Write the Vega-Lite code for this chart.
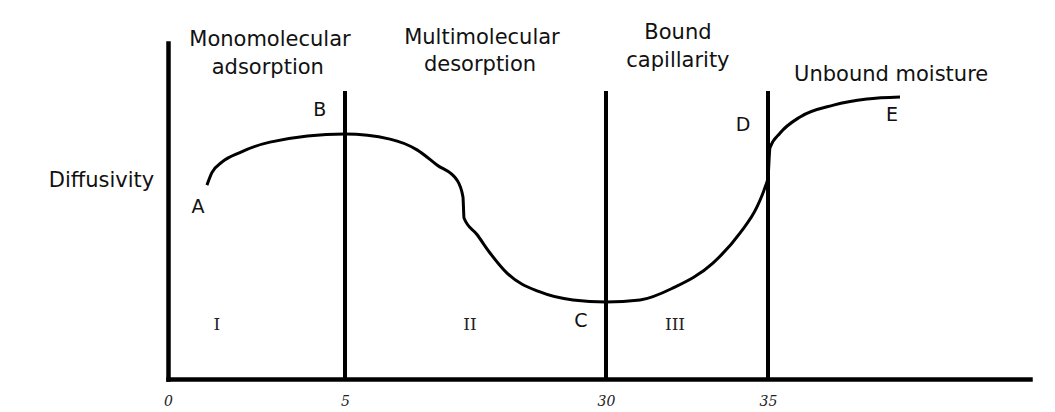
{
  "$schema": "https://vega.github.io/schema/vega-lite/v6.json",
  "width": 862,
  "height": 336,
  "autosize": {"type": "none"},
  "padding": {"left": 168, "top": 43, "right": 25, "bottom": 33},
  "background": "white",
  "config": {"view": {"stroke": null}},
  "datasets": {
    "curve": [
      {"moisture": 1.10, "diffusivity": 57.7},
      {"moisture": 1.24, "diffusivity": 61.4},
      {"moisture": 1.53, "diffusivity": 64.6},
      {"moisture": 2.03, "diffusivity": 67.4},
      {"moisture": 2.88, "diffusivity": 70.5},
      {"moisture": 5.00, "diffusivity": 72.9},
      {"moisture": 9.31, "diffusivity": 71.4},
      {"moisture": 11.90, "diffusivity": 68.2},
      {"moisture": 13.81, "diffusivity": 63.7},
      {"moisture": 15.73, "diffusivity": 59.2},
      {"moisture": 16.30, "diffusivity": 54.2},
      {"moisture": 16.40, "diffusivity": 47.9},
      {"moisture": 17.64, "diffusivity": 43.0},
      {"moisture": 18.89, "diffusivity": 37.5},
      {"moisture": 20.52, "diffusivity": 31.5},
      {"moisture": 23.68, "diffusivity": 25.9},
      {"moisture": 26.84, "diffusivity": 23.5},
      {"moisture": 30.00, "diffusivity": 22.9},
      {"moisture": 31.05, "diffusivity": 23.5},
      {"moisture": 32.07, "diffusivity": 27.1},
      {"moisture": 33.30, "diffusivity": 34.5},
      {"moisture": 34.14, "diffusivity": 43.5},
      {"moisture": 34.66, "diffusivity": 51.2},
      {"moisture": 34.91, "diffusivity": 57.1},
      {"moisture": 35.00, "diffusivity": 60.0},
      {"moisture": 35.06, "diffusivity": 68.8},
      {"moisture": 35.37, "diffusivity": 73.2},
      {"moisture": 35.98, "diffusivity": 78.0},
      {"moisture": 37.00, "diffusivity": 81.5},
      {"moisture": 38.02, "diffusivity": 83.3},
      {"moisture": 39.03, "diffusivity": 83.9}
    ],
    "dividers": [
      {"moisture": 5, "top": 85.7},
      {"moisture": 30, "top": 85.7},
      {"moisture": 35, "top": 85.7}
    ],
    "regions": [
      {"moisture": 2.88, "diffusivity": 100.9, "label": "Monomolecular"},
      {"moisture": 2.82, "diffusivity": 92.6, "label": "adsorption"},
      {"moisture": 18.12, "diffusivity": 101.5, "label": "Multimolecular"},
      {"moisture": 17.93, "diffusivity": 93.5, "label": "desorption"},
      {"moisture": 32.22, "diffusivity": 103.0, "label": "Bound"},
      {"moisture": 32.22, "diffusivity": 94.6, "label": "capillarity"},
      {"moisture": 38.76, "diffusivity": 90.5, "label": "Unbound moisture"}
    ],
    "points": [
      {"moisture": 0.85, "diffusivity": 51.2, "label": "A"},
      {"moisture": 4.29, "diffusivity": 80.1, "label": "B"},
      {"moisture": 27.6, "diffusivity": 17.3, "label": "C"},
      {"moisture": 34.23, "diffusivity": 75.6, "label": "D"},
      {"moisture": 38.79, "diffusivity": 78.6, "label": "E"}
    ],
    "zones": [
      {"moisture": 1.38, "diffusivity": 16.1, "label": "I"},
      {"moisture": 16.97, "diffusivity": 16.1, "label": "II"},
      {"moisture": 32.13, "diffusivity": 16.1, "label": "III"}
    ]
  },
  "encoding": {
    "x": {
      "type": "quantitative",
      "scale": {"domain": [0, 5, 30, 35, 43], "range": [0, 177, 438, 600, 862], "nice": false, "zero": false}
    },
    "y": {
      "type": "quantitative",
      "scale": {"domain": [0, 100], "nice": false}
    }
  },
  "layer": [
    {
      "data": {"name": "curve"},
      "mark": {"type": "line", "color": "black", "strokeWidth": 3, "interpolate": "monotone"},
      "encoding": {
        "x": {
          "field": "moisture",
          "type": "quantitative",
          "axis": {
            "values": [0, 5, 30, 35],
            "title": null,
            "grid": false,
            "ticks": false,
            "tickSize": 0,
            "domainColor": "black",
            "domainWidth": 4.5,
            "domainCap": "square",
            "labelFont": "DejaVu Serif",
            "labelFontStyle": "italic",
            "labelFontSize": 14,
            "labelColor": "#222",
            "labelBaseline": "middle",
            "labelPadding": 22,
            "labelDx": -3,
            "labelFlush": false,
            "labelOverlap": false
          }
        },
        "y": {
          "field": "diffusivity",
          "type": "quantitative",
          "axis": {
            "title": "Diffusivity",
            "titleAngle": 0,
            "titleX": -67,
            "titleY": 137,
            "titleAlign": "center",
            "titleBaseline": "middle",
            "titleFont": "DejaVu Sans",
            "titleFontSize": 21,
            "titleFontWeight": "normal",
            "titleColor": "#111",
            "grid": false,
            "ticks": false,
            "labels": false,
            "domainColor": "black",
            "domainWidth": 4.5,
            "domainCap": "square"
          }
        }
      }
    },
    {
      "data": {"name": "dividers"},
      "mark": {"type": "rule", "color": "black", "strokeWidth": 4},
      "encoding": {
        "x": {"field": "moisture", "type": "quantitative"},
        "y": {"field": "top", "type": "quantitative"},
        "y2": {"datum": 0}
      }
    },
    {
      "data": {"name": "regions"},
      "mark": {"type": "text", "font": "DejaVu Sans", "fontSize": 21, "color": "#111", "align": "center", "baseline": "middle"},
      "encoding": {
        "x": {"field": "moisture", "type": "quantitative"},
        "y": {"field": "diffusivity", "type": "quantitative"},
        "text": {"field": "label"}
      }
    },
    {
      "data": {"name": "points"},
      "mark": {"type": "text", "font": "DejaVu Sans", "fontSize": 19, "color": "#111", "align": "center", "baseline": "middle"},
      "encoding": {
        "x": {"field": "moisture", "type": "quantitative"},
        "y": {"field": "diffusivity", "type": "quantitative"},
        "text": {"field": "label"}
      }
    },
    {
      "data": {"name": "zones"},
      "mark": {"type": "text", "font": "DejaVu Serif", "fontSize": 17, "color": "#222", "align": "center", "baseline": "middle"},
      "encoding": {
        "x": {"field": "moisture", "type": "quantitative"},
        "y": {"field": "diffusivity", "type": "quantitative"},
        "text": {"field": "label"}
      }
    }
  ]
}
